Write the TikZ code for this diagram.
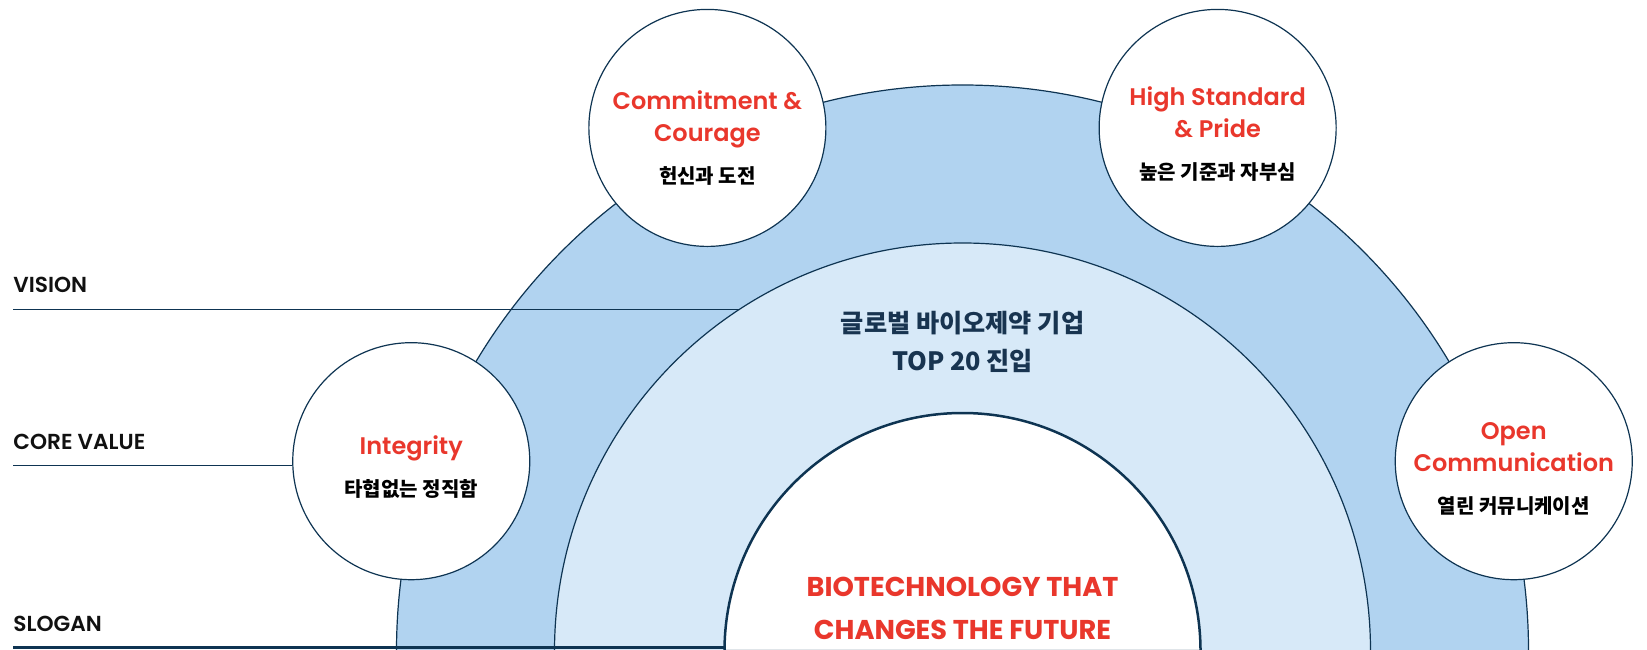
\documentclass[tikz,border=0pt]{standalone}
\usepackage{fontspec}
\setmainfont{Poppins}[BoldFont={Poppins SemiBold}]
\newfontfamily\popbold{Poppins Bold}
\newfontfamily\kor{Noto Sans CJK KR}
\usetikzlibrary{calc}

\definecolor{ringblue}{RGB}{177,211,240}
\definecolor{innerblue}{RGB}{215,233,248}
\definecolor{navy}{RGB}{14,52,82}
\definecolor{goalnavy}{RGB}{24,52,80}
\definecolor{valred}{RGB}{233,55,44}
\definecolor{labelblack}{RGB}{17,17,17}

\newcommand{\krline}[1]{\\[5pt]{\kor\bfseries\fontsize{10}{11}\selectfont\color{black}#1}}

\begin{document}
\begin{tikzpicture}[x=0.5pt,y=0.5pt,line join=round]
  \tikzstyle{arcline}=[draw=navy,line width=0.6pt]
  \tikzstyle{rowline}=[draw=navy,line width=0.6pt]
  \tikzstyle{value}=[circle,draw=navy,line width=0.6pt,fill=white,minimum size=118.5pt]
  \tikzstyle{valtext}=[inner sep=0pt,align=center,text=valred,font=\fontsize{12}{16}\selectfont\bfseries]
  \tikzstyle{rowlabel}=[anchor=base west,inner sep=0pt,text=labelblack,
        font=\fontsize{10.85}{12}\selectfont\bfseries]
  \useasboundingbox (0,0) rectangle (1647,649);
  \coordinate (ctr) at (962.5,-2);

  % rings
  \draw[arcline,fill=ringblue] ($(ctr)+(-566,0)$) arc[start angle=180,end angle=0,radius=566] -- cycle;
  \draw[arcline,fill=innerblue] ($(ctr)+(-408,0)$) arc[start angle=180,end angle=0,radius=408] -- cycle;
  \draw[draw=navy,line width=1.25pt,fill=white] ($(ctr)+(-238,0)$) arc[start angle=180,end angle=0,radius=238] -- cycle;

  % row labels
  \node[rowlabel] (vision) at (13,357) {VISION};
  \node[rowlabel] (core) at (13,200) {CORE VALUE};
  \node[rowlabel] (slogan) at (13,18) {SLOGAN};

  \coordinate (visend) at ($(ctr)+(123.2:408)$);
  \coordinate (sloganend) at ($(ctr)+(179.2:238)$);

  % values
  \node[value] (integ) at ($(ctr)+(161:583)$) {};
  \node[value] (commit) at ($(ctr)+(116:582)$) {};
  \node[value] (pride) at ($(ctr)+(64:582)$) {};
  \node[value] (open) at ($(ctr)+(19:583)$) {};
  \node[valtext] (integtxt) at ([yshift=-3pt]integ.center) {Integrity\krline{타협없는 정직함}};
  \node[valtext] (committxt) at ([yshift=-5pt]commit.center) {Commitment \&\\Courage\krline{헌신과 도전}};
  \node[valtext] (pridetxt) at ([yshift=-3pt]pride.center) {High Standard\\\& Pride\krline{높은 기준과 자부심}};
  \node[valtext] (opentxt) at ([yshift=-4pt]open.center) {Open\\Communication\krline{열린 커뮤니케이션}};

  \draw[rowline] (vision.base west |- visend) -- (visend);
  \draw[rowline] (core.base west |- integ.182) -- (integ.182);
  \draw[draw=navy,line width=1.5pt] (slogan.base west |- sloganend) -- (sloganend);

  \node[align=center,text=goalnavy,font=\kor\bfseries\fontsize{12.6}{19}\selectfont] (goal)
        at (962.5,307) {글로벌 바이오제약 기업\\TOP 20 진입};
  \node[align=center,text=valred,font=\popbold\fontsize{13.6}{21.5}\selectfont] (motto)
        at (962.5,41) {BIOTECHNOLOGY THAT\\CHANGES THE FUTURE};
\end{tikzpicture}
\end{document}
